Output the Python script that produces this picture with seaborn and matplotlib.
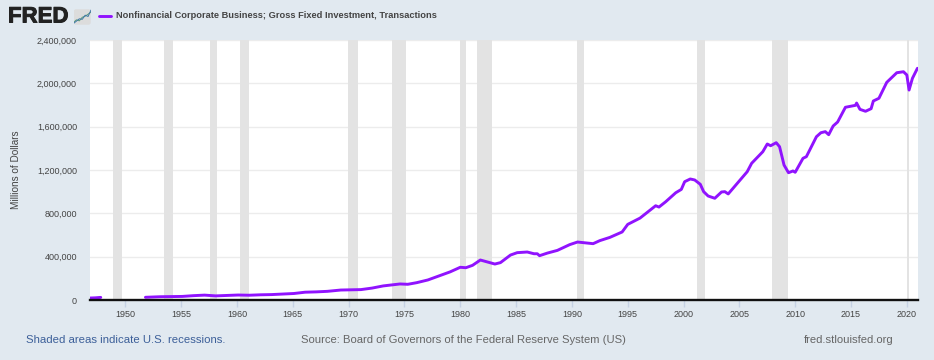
import pandas as pd
import matplotlib.pyplot as plt
import matplotlib.patheffects as pe
from matplotlib.patches import FancyBboxPatch
import seaborn as sns

TITLE = 'Nonfinancial Corporate Business; Gross Fixed Investment, Transactions'

# early segment, then the data gap until 1952
years_early = [1946.8, 1947.3, 1947.8]
values_early = [18, 20, 24]

years = [1951.8, 1953.1, 1955.1, 1956.1, 1957.1, 1958.1, 1959.1, 1960.1, 1961.1, 1962.1,
         1963.1, 1964.1, 1965.1, 1966.1, 1967.1, 1968.1, 1969.3, 1971.1, 1972.1, 1973.1,
         1974.6, 1975.3, 1976.1, 1977.1, 1977.9, 1979.1, 1980.0, 1980.5, 1981.1, 1981.8,
         1983.1, 1983.6, 1984.5, 1985.1, 1986.0, 1986.6, 1986.9, 1987.1, 1987.8, 1988.7,
         1989.8, 1990.5, 1991.9, 1992.5, 1993.4, 1994.5, 1995.0, 1996.1, 1997.5, 1997.8,
         1998.4, 1999.3, 1999.8, 2000.1, 2000.6, 2001.0, 2001.5, 2001.8, 2002.2, 2002.8,
         2003.4, 2003.7, 2004.0, 2005.7, 2006.1, 2007.1, 2007.5, 2007.8, 2008.3, 2008.6,
         2009.0, 2009.4, 2009.8, 2010.0, 2010.7, 2011.0, 2011.9, 2012.3, 2012.7, 2013.0,
         2013.4, 2013.8, 2014.5, 2015.4, 2015.5, 2015.8, 2016.3, 2016.8, 2017.0, 2017.5,
         2018.2, 2019.1, 2019.7, 2020.0, 2020.2, 2020.5, 2020.95]
values = [25, 30, 33, 40, 45, 38, 42, 46, 44, 48,
          50, 55, 60, 72, 75, 80, 92, 96, 110, 130,
          148, 145, 160, 185, 215, 260, 302, 298, 320, 369,
          332, 345, 415, 437, 443, 427, 427, 409, 433, 458,
          511, 535, 520, 548, 578, 628, 698, 756, 870, 858,
          907, 990, 1021, 1092, 1117, 1108, 1068, 1000, 960, 939,
          997, 1000, 979, 1184, 1262, 1369, 1440, 1424, 1452, 1415,
          1246, 1175, 1191, 1179, 1308, 1323, 1507, 1544, 1554, 1526,
          1606, 1643, 1779, 1797, 1818, 1760, 1742, 1766, 1837, 1862,
          2009, 2098, 2107, 2077, 1938, 2046, 2139]

recession_start = [1948.9, 1953.5, 1957.6, 1960.3, 1969.9, 1973.9, 1980.0, 1981.5, 1990.5, 2001.2, 2007.9, 2020.0]
recession_end = [1949.7, 1954.3, 1958.2, 1961.1, 1970.8, 1975.1, 1980.5, 1982.8, 1991.1, 2001.9, 2009.4, 2020.2]

x_ticks = list(range(1950, 2021, 5))
y_ticks = [0, 400000, 800000, 1200000, 1600000, 2000000, 2400000]

# small logo chart
logo_x = [0, 1, 2, 3, 4, 5, 6]
logo_green = [1, 2, 1.6, 3, 3.4, 4.2, 5]
logo_blue = [0.6, 1.5, 2.4, 2.2, 3.8, 3.3, 5.8]

BG = '#e1e9f0'
LINE = '#9013fe'
TEXT = '#444444'

sns.set_theme(style='white')
plt.rcParams['font.family'] = ['Liberation Sans', 'DejaVu Sans']

df_early = pd.DataFrame({'year': years_early, 'value': [v * 1000 for v in values_early]})
df_main = pd.DataFrame({'year': years, 'value': [v * 1000 for v in values]})

W, H = 934, 360
fig = plt.figure(figsize=(W / 100, H / 100), dpi=100, facecolor=BG)
ax = fig.add_axes([89.5 / W, 1 - 300 / H, (918 - 89.5) / W, 260 / H])
ax.set_facecolor('white')

# recession bands
for a, b in zip(recession_start, recession_end):
    ax.axvspan(a, b, color='#e3e3e3', lw=0, zorder=1)

sns.lineplot(data=df_early, x='year', y='value', color=LINE, linewidth=2.1, ax=ax, zorder=3)
sns.lineplot(data=df_main, x='year', y='value', color=LINE, linewidth=2.1, ax=ax, zorder=3)

ax.set_xlim(1946.79, 2021.0)
ax.set_ylim(0, 2400000)
ax.set_xticks(x_ticks)
ax.set_yticks(y_ticks)
ax.set_yticklabels([f'{v:,}' for v in y_ticks])
ax.set_xlabel('')
ax.set_ylabel('Millions of Dollars', fontsize=7.2, color=TEXT, labelpad=0)
ax.yaxis.set_label_coords((21 - 89.5) / (918 - 89.5), 0.5)
ax.grid(axis='y', color='#ececec', linewidth=1, zorder=0)
ax.grid(axis='x', visible=False)
ax.tick_params(axis='x', length=5, width=1, color='#c6d2e4', labelsize=6.5, labelcolor=TEXT, pad=2.5, bottom=True)
ax.tick_params(axis='y', length=0, labelsize=6.5, labelcolor=TEXT, pad=9)
for side in ['top', 'right', 'left']:
    ax.spines[side].set_visible(False)
ax.spines['bottom'].set_color('#111111')
ax.spines['bottom'].set_linewidth(1.7)
ax.spines['bottom'].set_zorder(5)

# header
logo = fig.text(8 / W, 1 - 17 / H, 'FRED', fontsize=16, fontweight='bold', color='#222222', va='center', ha='left')
logo.set_path_effects([pe.withStroke(linewidth=0.7, foreground='#222222')])
logo_ax = fig.add_axes([73.5 / W, 1 - 25 / H, 17.5 / W, 16 / H])
logo_ax.axis('off')
logo_ax.add_patch(FancyBboxPatch((0.1, 0.1), 5.8, 6.0, boxstyle='round,pad=0,rounding_size=0.8',
                                 facecolor='#dcdcdc', edgecolor='none', zorder=0))
sns.lineplot(x=logo_x, y=logo_green, color='#5a9a7a', linewidth=0.7, ax=logo_ax)
sns.lineplot(x=logo_x, y=logo_blue, color='#3f78a8', linewidth=0.7, ax=logo_ax)
logo_ax.set_xlim(0, 6)
logo_ax.set_ylim(0, 6.2)

fig.add_artist(plt.Line2D([98.5 / W, 111 / W], [1 - 16 / H, 1 - 16 / H], color=LINE, linewidth=2.1))
fig.text(115.5 / W, 1 - 16 / H, TITLE, fontsize=6.7, fontweight='bold', color=TEXT, va='center', ha='left')

# footer
fig.text(26.5 / W, 1 - 340 / H, 'Shaded areas indicate U.S. recessions.', fontsize=8.2, color='#3c5f99', va='center', ha='left')
fig.text(301 / W, 1 - 340 / H, 'Source: Board of Governors of the Federal Reserve System (US)', fontsize=8.15, color='#666666', va='center', ha='left')
fig.text(804 / W, 1 - 340 / H, 'fred.stlouisfed.org', fontsize=8.15, color='#666666', va='center', ha='left')

fig.savefig('out.png', dpi=100, facecolor=BG)
